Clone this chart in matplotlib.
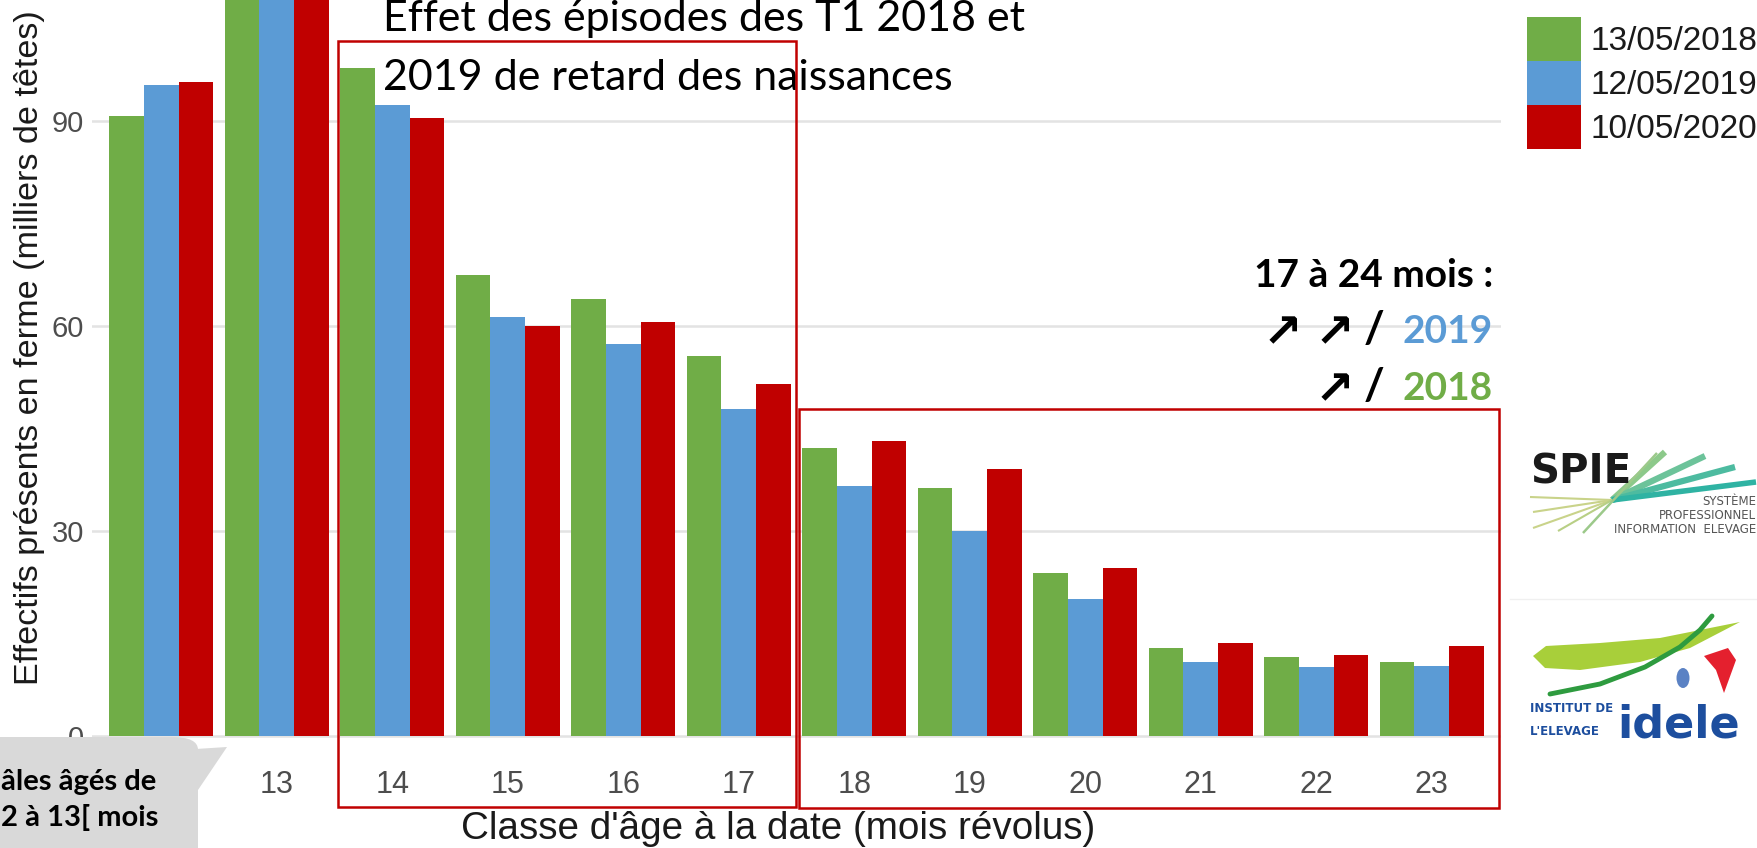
import matplotlib
matplotlib.use("Agg")
import matplotlib.pyplot as plt
import numpy as np
from matplotlib.lines import Line2D
from matplotlib.patches import Ellipse, FancyBboxPatch, Polygon, Rectangle

W, H = 1758, 848

# Classes d'age (mois revolus) et effectifs en milliers de tetes
classes = ["12", "13", "14", "15", "16", "17", "18", "19", "20", "21", "22", "23"]
dates = ["13/05/2018", "12/05/2019", "10/05/2020"]
eff_2018 = [90.7, 112.0, 97.7, 67.5, 63.9, 55.6, 42.1, 36.3, 23.9, 12.9, 11.5, 10.9]
eff_2019 = [95.2, 113.0, 92.3, 61.3, 57.4, 47.8, 36.5, 30.0, 20.0, 10.8, 10.1, 10.3]
eff_2020 = [95.6, 114.0, 90.4, 60.0, 60.6, 51.5, 43.1, 39.0, 24.6, 13.6, 11.9, 13.2]
y_ticks = [0, 30, 60, 90]

colors = ["#70AD47", "#5B9BD5", "#C00000"]
box_red = "#C00000"


def fx(x):
    return x / W


def fy(y):
    return 1 - y / H


fig = plt.figure(figsize=(W / 100, H / 100), dpi=100)
fig.patch.set_facecolor("white")

# panel: left 92px, right 1501px, top cut at the figure edge
ax = fig.add_axes([fx(92), fy(767), fx(1501) - fx(92), 767 / H])
x = np.arange(len(classes))
for i, (vals, col, lab) in enumerate(zip([eff_2018, eff_2019, eff_2020], colors, dates)):
    ax.bar(x + (i - 1) * 0.3, vals, width=0.3, color=col, label=lab, zorder=2)

ax.set_xlim(-0.6, len(classes) - 0.4)
ax.set_ylim(-4.53, 107.65)
ax.set_yticks(y_ticks)
ax.set_xticks(x, classes)
ax.yaxis.grid(True, color="#E3E3E3", linewidth=1.8)
ax.set_axisbelow(True)
for s in ax.spines.values():
    s.set_visible(False)
ax.tick_params(axis="x", length=0, pad=2.5, labelsize=22, labelcolor="#4D4D4D")
ax.tick_params(axis="y", length=0, pad=5.8, labelsize=21, labelcolor="#4D4D4D")
for lbl in ax.get_xticklabels() + ax.get_yticklabels():
    lbl.set_family("Liberation Sans")
# the first class label sits under the callout bubble
ax.get_xticklabels()[0].set_visible(False)

fig.text(fx(30), fy(348), "Effectifs présents en ferme (milliers de têtes)",
         rotation=90, ha="center", va="center", fontsize=24.6,
         family="Liberation Sans", color="#1A1A1A")
fig.text(fx(778), fy(829), "Classe d'âge à la date (mois révolus)",
         ha="center", va="center", fontsize=27.8, family="Liberation Sans",
         color="#1A1A1A")

# legend
handles, labels = ax.get_legend_handles_labels()
fig.legend(handles, labels, loc="upper left", bbox_to_anchor=(fx(1527), fy(17)),
           frameon=False, prop={"family": "Liberation Sans", "size": 24},
           handlelength=54 / 33.3, handleheight=55 / 33.3, labelspacing=0,
           handletextpad=0.27, borderpad=0, borderaxespad=0, labelcolor="#1A1A1A")

# red frames
fig.add_artist(Rectangle((fx(338), fy(807)), fx(796) - fx(338), (807 - 41) / H,
                         transform=fig.transFigure, fill=False, ec=box_red, lw=1.8, zorder=4))
fig.add_artist(Rectangle((fx(799), fy(808)), fx(1499) - fx(799), (808 - 409) / H,
                         transform=fig.transFigure, fill=False, ec=box_red, lw=1.8, zorder=4))

# title text
fig.text(fx(383), fy(31), "Effet des épisodes des T1 2018 et", ha="left",
         va="baseline", fontsize=31, family="Lato", color="black")
fig.text(fx(383), fy(90), "2019 de retard des naissances", ha="left",
         va="baseline", fontsize=31, family="Lato", color="black")

# comment 17 to 24 months
fig.text(fx(1493), fy(287), "17 à 24 mois :", ha="right", va="baseline",
         fontsize=28, weight="bold", family="Lato", color="black")
fig.text(fx(1493), fy(343), "2019", ha="right", va="baseline",
         fontsize=28, weight="bold", family="Lato", color=colors[1])
fig.text(fx(1493), fy(400), "2018", ha="right", va="baseline",
         fontsize=28, weight="bold", family="Lato", color=colors[0])
for xa, yb in [(1263, 343), (1315, 343), (1315, 400)]:
    fig.text(fx(xa), fy(yb + 4), "↗", ha="left", va="baseline", fontsize=34,
             weight="bold", family="DejaVu Sans", color="black")
for yb in [343, 400]:
    fig.text(fx(1364), fy(yb), "/", ha="left", va="baseline", fontsize=32,
             weight="bold", family="Lato", color="black")

# callout bubble bottom left (only the visible part of its text)
fig.add_artist(FancyBboxPatch((fx(-60), fy(880)), fx(198) - fx(-60), (880 - 737) / H,
                              boxstyle="round,pad=0,rounding_size=0.015",
                              transform=fig.transFigure, fc="#D9D9D9", ec="none", zorder=3))
fig.add_artist(Polygon([(fx(180), fy(750)), (fx(227), fy(747)), (fx(198), fy(790)),
                        (fx(180), fy(790))], closed=True, transform=fig.transFigure,
                       fc="#D9D9D9", ec="none", zorder=3))
fig.text(fx(1), fy(790), "âles âgés de", ha="left", va="baseline",
         fontsize=21, weight="bold", family="Lato", color="black", zorder=5)
fig.text(fx(1), fy(826), "2 à 13[ mois", ha="left", va="baseline",
         fontsize=21, weight="bold", family="Lato", color="black", zorder=5)

# SPIE logo (approximation)
fig.text(fx(1530), fy(483), "SPIE", ha="left", va="baseline", fontsize=29,
         weight="bold", family="DejaVu Sans", color="#1A1A1A")
rays = [((1612, 500), (1665, 452), "#8CC98A", 4.5),
        ((1612, 500), (1705, 456), "#6CC39A", 4.5),
        ((1612, 500), (1735, 467), "#4DBBA0", 4.5),
        ((1612, 500), (1756, 482), "#2FB3A3", 4.0),
        ((1612, 500), (1530, 497), "#C9D38A", 1.5),
        ((1612, 500), (1533, 512), "#C9D38A", 1.5),
        ((1612, 500), (1533, 528), "#C9D38A", 1.5),
        ((1612, 500), (1558, 531), "#B8CF85", 1.5),
        ((1583, 533), (1657, 453), "#9CC98A", 1.8)]
for (x0, y0), (x1, y1), c, lw in rays:
    fig.add_artist(Line2D([fx(x0), fx(x1)], [fy(y0), fy(y1)], transform=fig.transFigure,
                          color=c, lw=lw, solid_capstyle="butt"))
for yy, txt in [(505, "SYSTÈME"), (519, "PROFESSIONNEL"), (533, "INFORMATION  ELEVAGE")]:
    fig.text(fx(1756), fy(yy), txt, ha="right", va="baseline", fontsize=8.5,
             family="DejaVu Sans", color="#555555")
fig.add_artist(Line2D([fx(1510), fx(1758)], [fy(599), fy(599)], transform=fig.transFigure,
                      color="#F0F0F0", lw=1))

# idele logo (approximation)
fig.add_artist(Polygon([(fx(1533), fy(656)), (fx(1546), fy(646)), (fx(1600), fy(643)),
                        (fx(1660), fy(638)), (fx(1740), fy(622)), (fx(1690), fy(648)),
                        (fx(1640), fy(662)), (fx(1580), fy(670)), (fx(1545), fy(668))],
                       closed=True, transform=fig.transFigure, fc="#A8CF3A", ec="none"))
arc_x = [1550, 1600, 1645, 1680, 1700, 1712]
arc_y = [694, 684, 667, 647, 630, 616]
fig.add_artist(Line2D([fx(v) for v in arc_x], [fy(v) for v in arc_y],
                      transform=fig.transFigure, color="#2E9B3F", lw=3.5,
                      solid_capstyle="round"))
fig.add_artist(Ellipse((fx(1683), fy(678)), fx(13), 20 / H, transform=fig.transFigure,
                       fc="#5B82C4", ec="none"))
fig.add_artist(Polygon([(fx(1704), fy(656)), (fx(1728), fy(648)), (fx(1736), fy(660)),
                        (fx(1724), fy(693)), (fx(1716), fy(670))], closed=True,
                       transform=fig.transFigure, fc="#E4202E", ec="none"))
fig.text(fx(1530), fy(712), "INSTITUT DE", ha="left", va="baseline", fontsize=8.5,
         weight="bold", family="DejaVu Sans", color="#1D4E9E")
fig.text(fx(1530), fy(735), "L'ELEVAGE", ha="left", va="baseline", fontsize=8.5,
         weight="bold", family="DejaVu Sans", color="#1D4E9E")
fig.text(fx(1617), fy(737), "idele", ha="left", va="baseline", fontsize=32,
         weight="bold", family="DejaVu Sans", color="#1D4E9E")

fig.savefig("out.png", dpi=100)
